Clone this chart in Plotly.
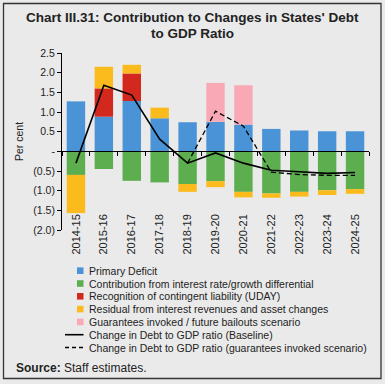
import plotly.graph_objects as go

categories = ["2014-15", "2015-16", "2016-17", "2017-18", "2018-19", "2019-20",
              "2020-21", "2021-22", "2022-23", "2023-24", "2024-25"]
primary_deficit = [1.27, 0.88, 1.28, 0.84, 0.74, 0.75, 0.68, 0.57, 0.53, 0.51, 0.51]
interest_growth = [-0.60, -0.45, -0.75, -0.79, -0.83, -0.76, -1.03, -1.07, -1.03, -0.99, -0.96]
uday = [None, 0.72, 0.70, None, None, None, None, None, None, None, None]
residual = [-0.97, 0.55, 0.22, 0.27, -0.20, -0.15, -0.14, -0.11, -0.12, -0.12, -0.12]
guarantees = [None, None, None, None, None, 0.99, 1.00, None, None, None, None]
baseline = [-0.30, 1.68, 1.43, 0.31, -0.30, -0.04, -0.30, -0.48, -0.52, -0.56, -0.54]
scenario = [None, None, None, None, -0.30, 1.02, 0.64, -0.53, -0.59, -0.61, -0.61]

ytick_vals = [2.5, 2.0, 1.5, 1.0, 0.5, 0, -0.5, -1.0, -1.5, -2.0]
ytick_text = ["2.5", "2.0", "1.5", "1.0", "0.5", "-", "(0.5)", "(1.0)", "(1.5)", "(2.0)"]

title_lines = ["Chart III.31: Contribution to Changes in States' Debt", "to GDP Ratio"]
bar_names = ["Primary Deficit",
             "Contribution from interest rate/growth differential",
             "Recognition of contingent liability (UDAY)",
             "Residual from interest revenues and asset changes",
             "Guarantees invoked / future bailouts scenario"]
line_names = ["Change in Debt to GDP ratio (Baseline)",
              "Change in Debt to GDP ratio (guarantees invoked scenario)"]
colors = ["#4a93d6", "#5cae4f", "#d3281d", "#fbbb1c", "#f8a9b5"]

W, H = 385, 384
L, R, T, B = 62, 16, 53, 154
PW, PH = W - L - R, H - T - B


def px(x):
    return (x - L) / PW


def py(y):
    return (H - B - y) / PH


fig = go.Figure()
for name, vals, col in zip(bar_names, [primary_deficit, interest_growth, uday, residual, guarantees], colors):
    fig.add_trace(go.Bar(x=categories, y=vals, name=name, marker=dict(color=col, line=dict(width=0)),
                         width=0.66, showlegend=False))

fig.add_trace(go.Scatter(x=categories, y=baseline, mode="lines", name=line_names[0],
                         line=dict(color="black", width=1.6), showlegend=False))
fig.add_trace(go.Scatter(x=categories, y=scenario, mode="lines", name=line_names[1],
                         line=dict(color="black", width=1.3, dash="5px,3px"), showlegend=False))
# helper trace for the zero-line axis with boundary ticks
fig.add_trace(go.Scatter(x=categories, y=[0] * len(categories), mode="markers", xaxis="x2",
                         marker=dict(size=1, opacity=0), showlegend=False, hoverinfo="skip"))

shapes = []
annotations = []
# title
for k, (txt, yc) in enumerate(zip(title_lines, [18.0, 33.5])):
    annotations.append(dict(text="<b>" + txt + "</b>", xref="paper", yref="paper", x=px(192.5),
                            y=py(yc), xanchor="center", yanchor="middle", showarrow=False,
                            font=dict(size=13.5, color="#222")))
# legend
row0, step = 270.7, 12.8
for i, (name, col) in enumerate(zip(bar_names, colors)):
    yc = row0 + step * i
    shapes.append(dict(type="rect", xref="paper", yref="paper", x0=px(77), x1=px(83.5),
                       y0=py(yc + 3.3), y1=py(yc - 3.3), fillcolor=col, line=dict(width=0)))
    annotations.append(dict(text=name, xref="paper", yref="paper", x=px(86.5), y=py(yc),
                            xanchor="left", yanchor="middle", showarrow=False,
                            font=dict(size=10.5, color="#222")))
for j, name in enumerate(line_names):
    yc = row0 + step * (5 + j)
    shapes.append(dict(type="line", xref="paper", yref="paper", x0=px(65), x1=px(83.5),
                       y0=py(yc), y1=py(yc),
                       line=dict(color="black", width=1.6 if j == 0 else 1.4,
                                 dash="solid" if j == 0 else "4px,3px")))
    annotations.append(dict(text=name, xref="paper", yref="paper", x=px(86.5), y=py(yc),
                            xanchor="left", yanchor="middle", showarrow=False,
                            font=dict(size=10.5, color="#222")))

annotations.append(dict(text="Per cent", xref="paper", yref="paper", x=px(19), y=py(142),
                        textangle=-90, showarrow=False, xanchor="center", yanchor="middle",
                        font=dict(size=10.5, color="#222")))
annotations.append(dict(text="<b>Source:</b> Staff estimates.", xref="paper", yref="paper",
                        x=px(14), y=py(367.5), xanchor="left", yanchor="middle", showarrow=False,
                        font=dict(size=12, color="#222")))
# outer frame
shapes.append(dict(type="rect", xref="paper", yref="paper", x0=px(3.5), x1=px(381),
                   y0=py(378.5), y1=py(3.5), line=dict(color="#333", width=1.3),
                   fillcolor="rgba(0,0,0,0)", layer="above"))

ymin, ymax = -2.0, 2.5
fig.update_layout(
    width=W, height=H,
    margin=dict(l=L, r=R, t=T, b=B, autoexpand=False),
    barmode="relative",
    bargap=0.34,
    paper_bgcolor="#eaeaea", plot_bgcolor="#eaeaea",
    font=dict(family="Liberation Sans, Arial, sans-serif", color="#222", size=10),
    xaxis=dict(type="category", range=[-0.5, 10.5], showline=False, ticks="",
               automargin=False, ticklabelstandoff=-19,
               tickangle=-90, tickfont=dict(size=11, color="#222"), showgrid=False),
    xaxis2=dict(type="category", overlaying="x", anchor="free", position=(0 - ymin) / (ymax - ymin),
                range=[-0.5, 10.5], showline=True, linecolor="black", linewidth=1.2,
                ticks="outside", tickson="boundaries", ticklen=3.5, tickcolor="black",
                showticklabels=False, showgrid=False, side="bottom", automargin=False),
    yaxis=dict(range=[ymin, ymax], tickvals=ytick_vals, ticktext=ytick_text, showline=True,
               linecolor="black", linewidth=1, ticks="outside", ticklen=4, tickcolor="black",
               automargin=False,
               showgrid=False, zeroline=False, tickfont=dict(size=10.5, color="#222")),
    shapes=shapes,
    annotations=annotations,
)

fig.write_html("out.html", config={"displayModeBar": False},
               post_script="document.body.style.margin='0';document.body.style.overflow='hidden';")
